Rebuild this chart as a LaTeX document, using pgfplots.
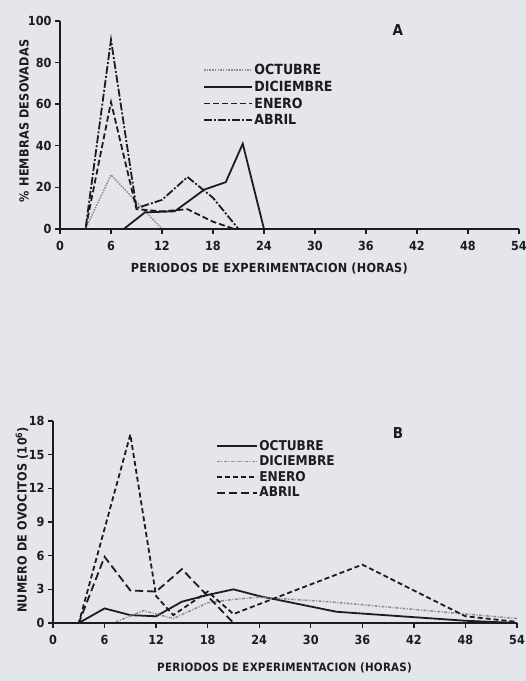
\documentclass[border=0pt]{standalone}
\usepackage{pgfplots}
\pgfplotsset{compat=1.18}
\usepackage{fontspec}
\setmainfont{DejaVu Sans Condensed}[BoldFont={DejaVu Sans Condensed Bold}]
\newfontfamily\spaced{DejaVu Sans Condensed Bold}[LetterSpace=2]
\newfontfamily\bfc{DejaVu Sans Condensed Bold}
\definecolor{bg}{RGB}{229,230,235}
\definecolor{ink}{RGB}{28,28,32}
\definecolor{lgray}{RGB}{140,140,148}
\pgfplotsset{
  panel/.style={
    scale only axis, axis on top,
    axis lines=left,
    axis line style={-, line width=1.8pt, ink},
    tick style={line width=1.4pt, ink},
    major tick length=5pt, tick align=outside,
    enlargelimits=false, clip=false,
    xmin=0, xmax=54, xtick={0,6,...,54},
    ticklabel style={font=\bfc\fontsize{12.5}{12.5}\selectfont, text=ink},
    xticklabel style={yshift=-4pt},
    /pgf/number format/assume math mode=true,
    legend cell align=left,
    legend style={draw=none, fill=none, inner sep=0pt, text=ink},
  },
}
\begin{document}
\begin{tikzpicture}
\useasboundingbox (0,0) rectangle (526pt,681pt);
\fill[bg] (0,0) rectangle (526pt,681pt);
% ---------------- Panel A ----------------
\begin{axis}[panel,
  at={(60pt,452pt)}, anchor=south west,
  width=459pt, height=208pt,
  ymin=0, ymax=100, ytick={0,20,...,100},
  xlabel={\spaced\fontsize{12.5}{12.5}\selectfont PERIODOS DE EXPERIMENTACION (HORAS)},
  xlabel style={at={(axis description cs:0.456,-0.192)}, anchor=center, text=ink},
  ylabel={\spaced\fontsize{12.5}{12.5}\selectfont \% HEMBRAS DESOVADAS},
  ylabel style={at={(axis description cs:-0.078,0.52)}, anchor=center, text=ink},
  legend style={at={(axis description cs:0.3115,0.795)}, anchor=north west,
    font=\bfc\fontsize{14}{14}\selectfont, row sep=5pt,
    nodes={inner xsep=1.5pt, inner ysep=0pt}},
  legend image code/.code={\draw[#1] (0pt,0pt) -- (48pt,0pt);},
]
\addplot[lgray, line width=1.5pt, dash pattern=on 1.5pt off 1.2pt] coordinates {(0,0)(3,0)(6,26)(9,13)(12,0)(24,0)(54,0)};
\addlegendentry{OCTUBRE}
\addplot[ink, line width=1.8pt] coordinates {(0,0)(7.5,0)(10,8)(13.5,8.5)(17,19)(19.5,22.5)(21.5,41)(24,0)(54,0)};
\addlegendentry{DICIEMBRE}
\addplot[ink, line width=1.8pt, dash pattern=on 6pt off 3pt] coordinates {(0,0)(3,0)(6,61)(9,9.5)(12,8.5)(15,9.5)(18,3.5)(20.5,0)(54,0)};
\addlegendentry{ENERO}
\addplot[ink, line width=1.8pt, dash pattern=on 8pt off 2pt on 2pt off 2pt] coordinates {(0,0)(3,0)(6,91)(9,10)(12,14)(15,25)(18,15)(21,0)(54,0)};
\addlegendentry{ABRIL}
\node[text=ink, font=\bfc\fontsize{15}{15}\selectfont] at (axis description cs:0.736,0.957) {A};
\end{axis}
% ---------------- Panel B ----------------
\begin{axis}[panel,
  at={(53pt,58pt)}, anchor=south west,
  width=464pt, height=202pt,
  ymin=0, ymax=18, ytick={0,3,...,18},
  xlabel={\spaced\fontsize{11.5}{11.5}\selectfont PERIODOS DE EXPERIMENTACION (HORAS)},
  xlabel style={at={(axis description cs:0.499,-0.22)}, anchor=center, text=ink},
  ylabel={\spaced\fontsize{12.5}{12.5}\selectfont NUMERO DE OVOCITOS (10\textsuperscript{6})},
  ylabel style={at={(axis description cs:-0.067,0.51)}, anchor=center, text=ink},
  legend style={at={(axis description cs:0.351,0.905)}, anchor=north west,
    font=\bfc\fontsize{13.5}{13.5}\selectfont, row sep=4pt,
    nodes={inner xsep=1.5pt, inner ysep=0pt}},
  legend image code/.code={\draw[#1] (0pt,0pt) -- (40pt,0pt);},
]
\addplot[ink, line width=1.8pt] coordinates {(0,0)(3,0)(6,1.3)(9,0.7)(12,0.6)(15,1.9)(18,2.5)(21,3.0)(24,2.4)(33,1.0)(48,0.2)(54,0)};
\addlegendentry{OCTUBRE}
\addplot[lgray, line width=1.5pt, dash pattern=on 3pt off 1.5pt on 1pt off 1.5pt] coordinates {(0,0)(7,0)(10.5,1.1)(14,0.4)(18,1.8)(21,2.1)(24,2.3)(32,1.9)(48,0.8)(54,0.4)};
\addlegendentry{DICIEMBRE}
\addplot[ink, line width=1.8pt, dash pattern=on 5pt off 3pt] coordinates {(0,0)(3,0)(9,16.8)(12,2.4)(14,0.7)(18,2.8)(21,0.8)(36,5.2)(48,0.6)(54,0.1)};
\addlegendentry{ENERO}
\addplot[ink, line width=1.8pt, dash pattern=on 8pt off 4pt] coordinates {(0,0)(3,0)(6,5.9)(9,2.9)(12,2.8)(15,4.8)(21,0)(54,0)};
\addlegendentry{ABRIL}
\node[text=ink, font=\bfc\fontsize{15}{15}\selectfont] at (axis description cs:0.7435,0.94) {B};
\end{axis}
\end{tikzpicture}
\end{document}
